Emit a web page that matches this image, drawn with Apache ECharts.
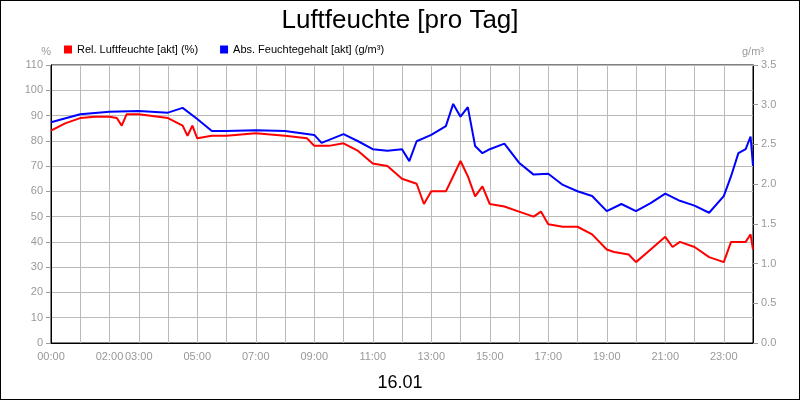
<!DOCTYPE html><html><head><meta charset="utf-8"><script src="https://cdn.jsdelivr.net/npm/echarts@6/dist/echarts.min.js"></script>
<style>body{margin:0}#c{width:798px;height:398px;border:1px solid #000}</style></head><body><div id="c"></div><script>
const xLabels=['00:00','02:00','03:00','05:00','07:00','09:00','11:00','13:00','15:00','17:00','19:00','21:00','23:00'];
const relT=[0,30,60,90,120,135,145,155,180,240,270,280,290,300,330,360,420,480,525,540,570,600,630,660,690,720,750,765,780,810,825,840,855,870,885,900,930,960,990,1005,1020,1050,1080,1110,1140,1155,1185,1200,1230,1260,1275,1290,1320,1350,1380,1395,1410,1425,1435,1440];
const relV=[84,87,89,89.5,89.5,89,86,90.5,90.5,89,86,82,86,81,82,82,83,82,81,78,78,79,76,71,70,65,63,55,60,60,66,72,66,58,62,55,54,52,50,52,47,46,46,43,37,36,35,32,37,42,38,40,38,34,32,40,40,40,43,37];
const absT=[0,60,120,180,240,270,300,330,360,420,480,540,555,600,630,660,690,720,735,750,780,810,825,840,855,870,885,900,930,960,990,1020,1050,1080,1110,1140,1170,1200,1230,1260,1290,1320,1350,1380,1395,1410,1425,1435,1440];
const absV=[2.78,2.88,2.91,2.92,2.9,2.96,2.82,2.67,2.67,2.68,2.67,2.62,2.52,2.63,2.54,2.44,2.42,2.44,2.29,2.54,2.62,2.73,3.01,2.85,2.97,2.48,2.39,2.44,2.51,2.27,2.12,2.13,1.99,1.91,1.85,1.66,1.75,1.66,1.76,1.88,1.79,1.73,1.64,1.85,2.1,2.39,2.44,2.6,2.23];
const g={color:'#999',fontSize:11,fontFamily:'Arial'};
const c=echarts.init(document.getElementById('c'));
c.setOption({animation:false,
title:[{text:'Luftfeuchte [pro Tag]',left:'center',top:2,textStyle:{fontSize:26,fontWeight:'normal',color:'#000',fontFamily:'Arial'}},
{text:'16.01',left:'center',top:368,textStyle:{fontSize:18,fontWeight:'normal',color:'#000',fontFamily:'Arial'}}],
legend:{left:58,top:38,itemWidth:8,itemHeight:8,itemGap:22,icon:'rect',textStyle:{fontSize:11,fontFamily:'Arial',color:'#000'}},
grid:{left:50,right:46,top:64,bottom:56,show:true,borderColor:'#000',borderWidth:1},
xAxis:{type:'value',min:0,max:1440,interval:60,axisLine:{lineStyle:{color:'#000'}},axisTick:{show:false},
splitLine:{lineStyle:{color:'#bbb'}},axisLabel:Object.assign({},g,{formatter:v=>{const h=String(v/60).padStart(2,'0')+':00';return xLabels.includes(h)?h:'';}})},
yAxis:[{type:'value',name:'%',nameGap:8,nameTextStyle:Object.assign({},g,{align:'right'}),min:0,max:110,interval:10,axisLine:{show:true,lineStyle:{color:'#000'}},axisTick:{show:true,lineStyle:{color:'#999'}},splitLine:{lineStyle:{color:'#bbb'}},axisLabel:g},
{type:'value',name:'g/m³',nameGap:8,nameTextStyle:g,min:0,max:3.5,interval:0.5,axisLine:{show:true,lineStyle:{color:'#000'}},axisTick:{show:true,lineStyle:{color:'#999'}},splitLine:{show:false},axisLabel:Object.assign({},g,{formatter:v=>v.toFixed(1)})}],
series:[{name:'Rel. Luftfeuchte [akt] (%)',type:'line',color:'#ff0000',showSymbol:false,lineStyle:{width:2},data:relT.map((t,i)=>[t,relV[i]])},
{name:'Abs. Feuchtegehalt [akt] (g/m³)',type:'line',yAxisIndex:1,color:'#0000ff',showSymbol:false,lineStyle:{width:2},data:absT.map((t,i)=>[t,absV[i]])}]});
</script></body></html>
